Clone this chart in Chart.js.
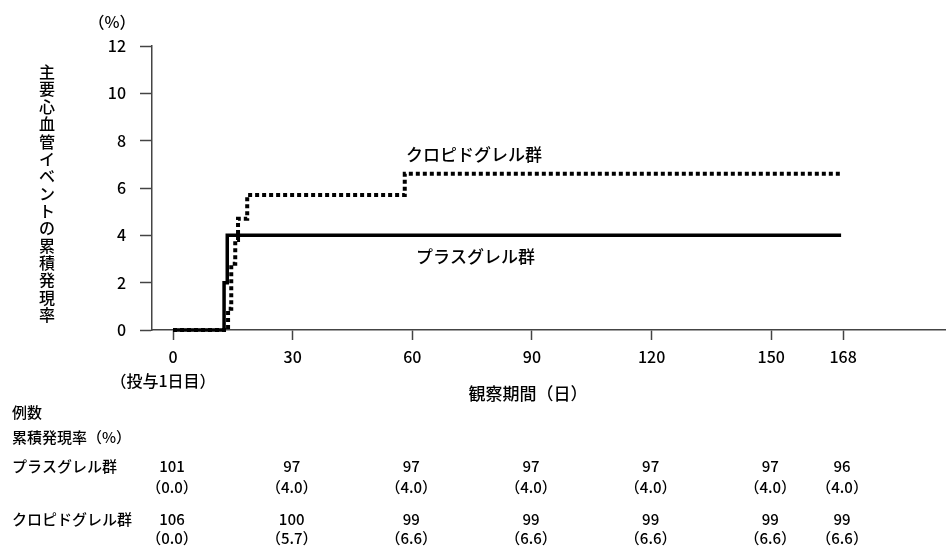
<!DOCTYPE html>
<html><head><meta charset="utf-8">
<script src="https://cdn.jsdelivr.net/npm/chart.js@4"></script>
<style>html,body{margin:0;padding:0;background:#fff}#wrap{width:946px;height:546px;position:relative}canvas{display:block}</style>
</head><body><div id="wrap"><canvas id="c" width="946" height="546"></canvas></div>
<script>
// ---- data ----
const xTickDays = [0, 30, 60, 90, 120, 150, 168];
const yTicks = [0, 2, 4, 6, 8, 10, 12];
const seriesNames = ['プラスグレル群', 'クロピドグレル群'];
const prasugrelDays = [0, 12.8, 13.6, 167.5];
const prasugrelRates = [0, 2.0, 4.0, 4.0];
const clopidogrelDays = [0, 13.8, 14.6, 15.6, 16.3, 18.6, 58.1, 167.5];
const clopidogrelRates = [0, 0.9, 2.8, 3.8, 4.7, 5.7, 6.6, 6.6];
const prasugrelAtRisk = [101, 97, 97, 97, 97, 97, 96];
const prasugrelCumRate = [0.0, 4.0, 4.0, 4.0, 4.0, 4.0, 4.0];
const clopidogrelAtRisk = [106, 100, 99, 99, 99, 99, 99];
const clopidogrelCumRate = [0.0, 5.7, 6.6, 6.6, 6.6, 6.6, 6.6];
const yTitle = '主要心血管イベントの累積発現率';
const yUnit = '（%）';
const xTitle = '観察期間（日）';
const dayOneLabel = '（投与1日目）';
const tableHead1 = '例数';
const tableHead2 = '累積発現率（%）';

const FONT = '"Noto Sans CJK JP", "Noto Sans", sans-serif';
const AXIS = '#444';

const textPlugin = {
  id: 'texts',
  afterDraw(chart) {
    const ctx = chart.ctx;
    const xs = chart.scales.x;
    ctx.save();
    ctx.fillStyle = '#000';
    ctx.textBaseline = 'middle';
    ctx.font = '500 16px ' + FONT;
    ctx.textAlign = 'center';
    ctx.fillText(yUnit, 112, 22);
    // vertical y title
    const chars = Array.from(yTitle);
    const step = (315 - 72) / (chars.length - 1);
    chars.forEach((c, i) => ctx.fillText(c, 47, 72 + i * step));
    ctx.fillText(dayOneLabel, 163, 381);
    ctx.font = '500 17px ' + FONT;
    ctx.fillText(xTitle, 528, 394);
    // series labels
    ctx.textAlign = 'left';
    ctx.fillText(seriesNames[1], 406, 155);
    ctx.fillText(seriesNames[0], 416, 257);
    // table
    ctx.font = '500 15px ' + FONT;
    ctx.fillText(tableHead1, 12, 412);
    ctx.fillText(tableHead2, 12, 437);
    ctx.fillText(seriesNames[0], 12, 466);
    ctx.fillText(seriesNames[1], 12, 519);
    ctx.textAlign = 'center';
    xTickDays.forEach((d, i) => {
      const px = xs.getPixelForValue(d) - 1;
      ctx.fillText(String(prasugrelAtRisk[i]), px, 466);
      ctx.fillText('（' + prasugrelCumRate[i].toFixed(1) + '）', px, 487);
      ctx.fillText(String(clopidogrelAtRisk[i]), px, 519);
      ctx.fillText('（' + clopidogrelCumRate[i].toFixed(1) + '）', px, 538);
    });
    ctx.restore();
  }
};

new Chart(document.getElementById('c').getContext('2d'), {
  type: 'line',
  data: {
    datasets: [
      {
        label: seriesNames[0],
        data: prasugrelDays.map((d, i) => ({ x: d, y: prasugrelRates[i] })),
        borderColor: '#000', borderWidth: 3.5, stepped: 'before',
        pointRadius: 0, fill: false, clip: false
      },
      {
        label: seriesNames[1],
        data: clopidogrelDays.map((d, i) => ({ x: d, y: clopidogrelRates[i] })),
        borderColor: '#000', borderWidth: 4, borderDash: [4, 3], stepped: 'before',
        pointRadius: 0, fill: false, clip: false
      }
    ]
  },
  options: {
    responsive: false, animation: false, devicePixelRatio: 1,
    layout: { padding: { top: 46, right: 0, left: 0, bottom: 0 } },
    plugins: { legend: { display: false }, tooltip: { enabled: false } },
    scales: {
      x: {
        type: 'linear', min: -5.27, max: 193.8,
        afterBuildTicks: s => { s.ticks = xTickDays.map(v => ({ value: v })); },
        afterFit: s => { s.height = 216; },
        grid: { drawOnChartArea: false, drawTicks: true, tickLength: 10, tickColor: AXIS, tickWidth: 1.5 },
        border: { display: true, color: AXIS, width: 1.5 },
        ticks: { color: '#000', font: { family: FONT, size: 16, weight: '500' }, padding: 7, maxRotation: 0, autoSkip: false }
      },
      y: {
        min: 0, max: 12,
        afterBuildTicks: s => { s.ticks = yTicks.map(v => ({ value: v })); },
        afterFit: s => { s.width = 152; },
        grid: { drawOnChartArea: false, drawTicks: true, tickLength: 12, tickColor: AXIS, tickWidth: 1.5 },
        border: { display: true, color: AXIS, width: 1.5 },
        ticks: { color: '#000', font: { family: FONT, size: 16, weight: '500' }, padding: 14 }
      }
    }
  },
  plugins: [textPlugin]
});
</script></body></html>
